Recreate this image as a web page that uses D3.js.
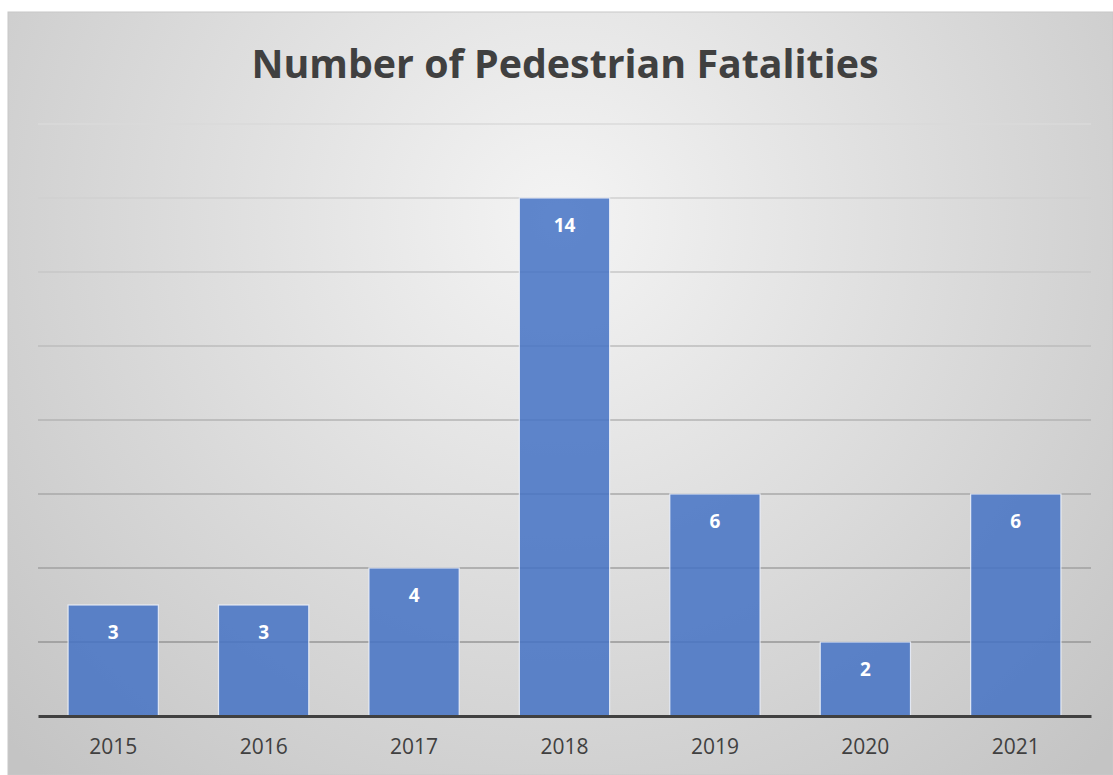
<!DOCTYPE html>
<html><head><meta charset="utf-8">
<script src="https://cdn.jsdelivr.net/npm/d3@7"></script>
<style>html,body{margin:0;padding:0;background:#fff;}svg{display:block;}</style>
</head><body>
<svg id="c" width="1113" height="775"></svg>
<script>
const years = ["2015","2016","2017","2018","2019","2020","2021"];
const fatalities = [3,3,4,14,6,2,6];
const yTicks = [0,2,4,6,8,10,12,14,16];
const title = "Number of Pedestrian Fatalities";

const svg = d3.select("#c");
const W = 1113, H = 775;
const defs = svg.append("defs");
const rg = defs.append("radialGradient").attr("id","bg")
  .attr("gradientUnits","userSpaceOnUse")
  .attr("cx",560).attr("cy",220).attr("r",760);
rg.append("stop").attr("offset","0%").attr("stop-color","#f4f4f4");
rg.append("stop").attr("offset","100%").attr("stop-color","#c4c4c4");

svg.append("rect").attr("x",8).attr("y",12).attr("width",W-8).attr("height",H-12)
  .attr("fill","url(#bg)").attr("stroke","#c8c8c8").attr("stroke-width",1);

const x = d3.scaleBand().domain(years).range([38,1091]).paddingInner(0.4).paddingOuter(0.2);
const y = d3.scaleLinear().domain([0,16]).range([716,124]);

const gc = d3.scaleLinear().domain([16,0]).range(["#dadada","#8c8c8c"]);
svg.append("g").selectAll("line").data(yTicks.filter(d=>d>0)).join("line")
  .attr("x1",38).attr("x2",1091).attr("y1",d=>y(d)).attr("y2",d=>y(d))
  .attr("stroke",d=>gc(d)).attr("stroke-width",1.3);

svg.append("g").selectAll("rect").data(fatalities).join("rect")
  .attr("x",(d,i)=>x(years[i])).attr("width",x.bandwidth())
  .attr("y",d=>y(d)).attr("height",d=>y(0)-y(d))
  .attr("fill","#4472C4").attr("fill-opacity",0.85)
  .attr("stroke","#eef2fa").attr("stroke-opacity",0.85).attr("stroke-width",1.2);

svg.append("g").selectAll("text").data(fatalities).join("text")
  .attr("x",(d,i)=>x(years[i])+x.bandwidth()/2).attr("y",d=>y(d)+34)
  .attr("text-anchor","middle").attr("font-family","Open Sans, sans-serif")
  .attr("font-weight","bold").attr("font-size",19).attr("fill","#fff").text(d=>d);

const xAxis = svg.append("g").attr("transform","translate(0,716)")
  .call(d3.axisBottom(x).tickSize(0).tickPadding(23));
xAxis.select(".domain").attr("stroke","#404040").attr("stroke-width",3.2);
xAxis.selectAll("text").attr("font-family","Open Sans, sans-serif").attr("font-size",21).attr("fill","#404040");

svg.append("text").attr("x",565).attr("y",78).attr("text-anchor","middle")
  .attr("font-family","Open Sans, sans-serif").attr("font-weight","bold")
  .attr("font-size",39).attr("textLength",627).attr("lengthAdjust","spacingAndGlyphs")
  .attr("fill","#404040").text(title);
</script>
</body></html>
